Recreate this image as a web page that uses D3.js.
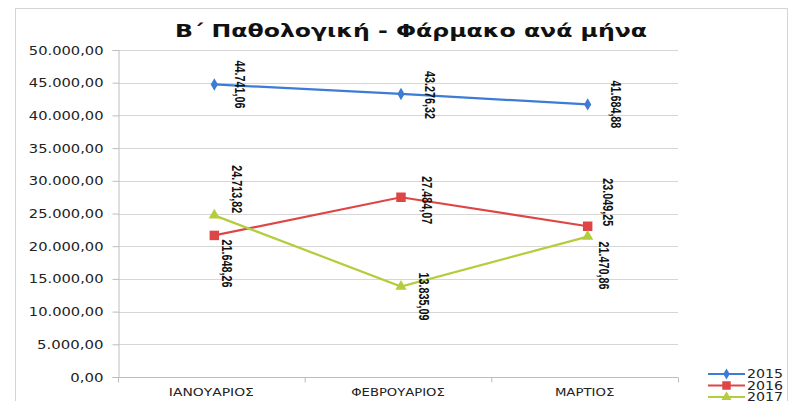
<!DOCTYPE html>
<html>
<head>
<meta charset="utf-8">
<script src="https://cdn.jsdelivr.net/npm/d3@7"></script>
<style>
  html, body { margin: 0; padding: 0; background: #fff; }
  svg { display: block; }
</style>
</head>
<body>
<svg id="chart" width="792" height="401"></svg>
<script>
// ---- data ----
const title = "Β΄ Παθολογική - Φάρμακο ανά μήνα";
const months = ["ΙΑΝΟΥΑΡΙΟΣ", "ΦΕΒΡΟΥΑΡΙΟΣ", "ΜΑΡΤΙΟΣ"];
const seriesNames = ["2015", "2016", "2017"];
const values2015 = [44741.06, 43276.32, 41684.88];
const values2016 = [21648.26, 27484.07, 23049.25];
const values2017 = [24713.82, 13835.09, 21470.86];
const yTicks = [0, 5000, 10000, 15000, 20000, 25000, 30000, 35000, 40000, 45000, 50000];

// ---- layout / style (not data) ----
const colors = ["#3d7bd4", "#de4646", "#b3cd3d"];
const markers = [d3.symbolDiamond, d3.symbolSquare, d3.symbolTriangle];
const markerSizes = [45, 90, 55];
// label nudges relative to marker: [dx, dy of label centre]
const labelNudge = [
  [[28, 0], [31, 1], [30, 0]],
  [[15, 28], [28, 3], [22, -24]],
  [[25, -26], [25, 10], [18, 29]]
];

const allSeries = [values2015, values2016, values2017];
const fmt = v => {
  const s = v.toFixed(2).split(".");
  return s[0].replace(/\B(?=(\d{3})+(?!\d))/g, ".") + "," + s[1];
};

const svg = d3.select("#chart");
const plot = { left: 118, right: 678, top: 50, bottom: 377 };

// outer chart border
svg.append("rect").attr("x", 15.5).attr("y", 8.5).attr("width", 772).attr("height", 420)
  .attr("fill", "#fff").attr("stroke", "#d4d4d4").attr("stroke-width", 1);

const y = d3.scaleLinear().domain([0, 50000]).range([plot.bottom, plot.top]);
const xBand = d3.scaleBand().domain(months).range([plot.left, plot.right]);
const x = d3.scalePoint().domain(months).range([plot.left + 3, plot.right + 3]).padding(0.5);

// title
svg.append("text")
  .attr("x", 411).attr("y", 37)
  .attr("text-anchor", "middle")
  .attr("font-family", "DejaVu Sans, sans-serif")
  .attr("font-weight", "bold")
  .attr("font-size", 18)
  .attr("textLength", 472).attr("lengthAdjust", "spacingAndGlyphs")
  .attr("fill", "#111")
  .text(title);

// gridlines
svg.append("g").selectAll("line").data(yTicks.filter(t => t > 0)).join("line")
  .attr("x1", plot.left).attr("x2", plot.right)
  .attr("y1", d => Math.round(y(d)) + 0.5).attr("y2", d => Math.round(y(d)) + 0.5)
  .attr("stroke", "#d6d6d6").attr("stroke-width", 1);

// y axis
const yAxis = d3.axisLeft(y).tickValues(yTicks).tickSize(6).tickPadding(9)
  .tickFormat(d => fmt(d));
const gy = svg.append("g").attr("transform", `translate(${plot.left + 0.5},0)`).call(yAxis);
gy.select(".domain").attr("stroke", "#bdbdbd");
gy.selectAll(".tick line").attr("stroke", "#bdbdbd");
gy.selectAll(".tick text")
  .attr("font-family", "DejaVu Sans, sans-serif")
  .attr("font-size", 12.5)
  .attr("fill", "#222")
  .each(function () {
    const t = d3.select(this);
    const n = t.text().length;
    t.attr("textLength", n * 8.3).attr("lengthAdjust", "spacingAndGlyphs");
  });

// x axis
const gx = svg.append("g").attr("transform", `translate(0,${plot.bottom + 0.5})`);
gx.append("line").attr("x1", plot.left).attr("x2", plot.right).attr("stroke", "#bdbdbd");
gx.selectAll("line.tk").data([...months.map(m => xBand(m)), plot.right]).join("line")
  .attr("class", "tk")
  .attr("x1", d => d + 0.5).attr("x2", d => d + 0.5).attr("y1", 0).attr("y2", 5)
  .attr("stroke", "#bdbdbd");
gx.selectAll("text").data(months).join("text")
  .attr("x", d => xBand(d) + xBand.bandwidth() / 2)
  .attr("y", 18)
  .attr("text-anchor", "middle")
  .attr("font-family", "DejaVu Sans, sans-serif")
  .attr("font-size", 11)
  .attr("fill", "#222")
  .attr("textLength", d => d.length * 8.5).attr("lengthAdjust", "spacingAndGlyphs")
  .text(d => d);

// lines + markers + labels
const line = d3.line().x((d, i) => x(months[i])).y(d => y(d));
allSeries.forEach((vals, si) => {
  const g = svg.append("g");
  g.append("path").datum(vals).attr("d", line)
    .attr("fill", "none").attr("stroke", colors[si]).attr("stroke-width", 2.2);
  g.selectAll("path.mk").data(vals).join("path").attr("class", "mk")
    .attr("transform", (d, i) => `translate(${x(months[i])},${y(d)})`)
    .attr("d", d3.symbol().type(markers[si]).size(markerSizes[si]))
    .attr("fill", colors[si]);
  g.selectAll("text").data(vals).join("text")
    .attr("transform", (d, i) => {
      const [dx, dy] = labelNudge[si][i];
      return `translate(${x(months[i]) + dx - 2},${y(d) + dy}) rotate(90)`;
    })
    .attr("text-anchor", "middle")
    .attr("dominant-baseline", "central")
    .attr("font-family", "Liberation Sans Narrow, Arial Narrow, Liberation Sans, sans-serif")
    .attr("font-weight", "bold")
    .attr("font-size", 14.5)
    .attr("textLength", 48).attr("lengthAdjust", "spacingAndGlyphs")
    .attr("fill", "#111")
    .text(d => fmt(d));
});

// legend
const lg = svg.append("g");
seriesNames.forEach((name, i) => {
  const ly = 374 + i * 11.5;
  lg.append("line").attr("x1", 708).attr("x2", 745).attr("y1", ly).attr("y2", ly)
    .attr("stroke", colors[i]).attr("stroke-width", 2.2);
  lg.append("path").attr("transform", `translate(726.5,${ly})`)
    .attr("d", d3.symbol().type(markers[i]).size(markerSizes[i] * 0.8))
    .attr("fill", colors[i]);
  lg.append("text").attr("x", 747).attr("y", ly).attr("dominant-baseline", "central")
    .attr("font-family", "DejaVu Sans, sans-serif").attr("font-size", 12)
    .attr("textLength", 36).attr("lengthAdjust", "spacingAndGlyphs")
    .attr("fill", "#222").text(name);
});
</script>
</body>
</html>
